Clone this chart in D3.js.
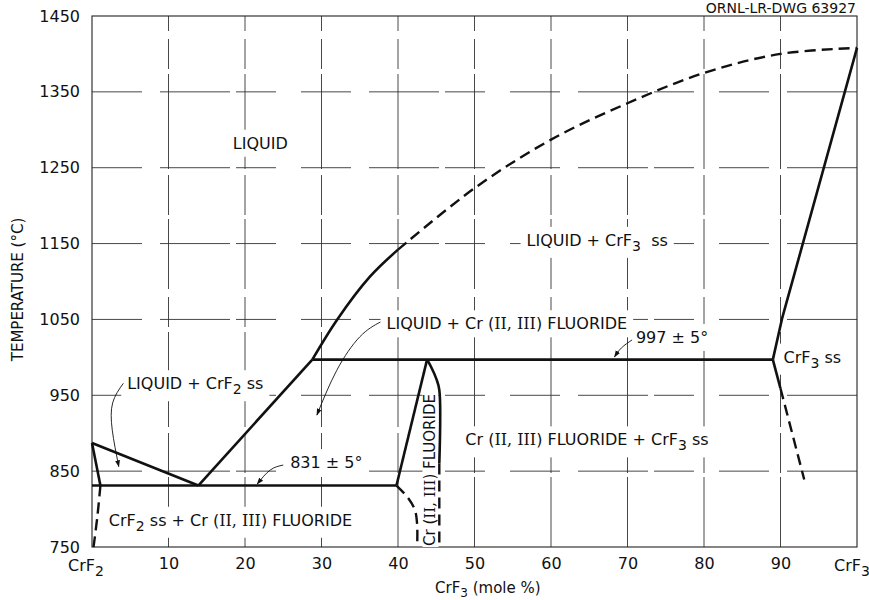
<!DOCTYPE html>
<html>
<head>
<meta charset="utf-8">
<script src="https://cdn.jsdelivr.net/npm/d3@7"></script>
<style>
  body { margin: 0; background: #fff; }
  svg text { font-family: "DejaVu Sans", sans-serif; fill: #111; }
  .rn { font-family: "DejaVu Serif", serif; }
</style>
</head>
<body>
<svg id="chart" width="869" height="600"></svg>
<script>
// Axis ticks.
const xTicks = [0, 10, 20, 30, 40, 50, 60, 70, 80, 90, 100];
const yTicks = [750, 850, 950, 1050, 1150, 1250, 1350, 1450];
const gridX = [10, 20, 30, 40, 50, 60, 70, 80, 90];
const gridY = [850, 950, 1050, 1150, 1250, 1350];

// Phase boundaries, [mole % CrF3, temperature °C].
const liquidusCrF2 = [[0, 887], [13.9, 831]];
const solidusCrF2 = [[0, 887], [1.1, 831]];
const solidusCrF2Dashed = [[1.1, 831], [0.7, 790], [0.2, 750]];
const liquidusLow = [[13.9, 831], [28.8, 997]];
const liquidusMid = [[28.8, 997], [32, 1049], [36.3, 1106], [40, 1142]];
const liquidusHigh = [[40, 1142], [50, 1223], [60, 1287], [70, 1335], [80, 1375], [90, 1400], [100, 1408]];
const eutectic = [[0, 831], [39.8, 831]];
const peritectic = [[28.8, 997], [89, 997]];
const compoundLeft = [[39.8, 831], [43.8, 997]];
const compoundRight = [[43.8, 997], [44.3, 988], [45.0, 972], [45.4, 957], [45.4, 860]];
const compoundRightDashed = [[45.4, 860], [45.4, 750]];
const compoundLowDashed = [[39.8, 831], [41.3, 815], [42.2, 799], [42.5, 780], [42.5, 750]];
const crf3ssUpper = [[89, 997], [90.2, 1051], [100, 1408]];
const crf3ssLower = [[89, 997], [90, 959]];
const crf3ssLowerDashed = [[90, 959], [93.1, 839]];

// Leader lines with arrowheads.
const leaderLiqCompound = [[37.7, 1046.6], [35, 1027], [32, 983], [29.4, 924]];
const leaderLiqCrF2 = [[4.1, 965.8], [2.7, 940], [2.65, 904], [3.5, 856]];
const leader831 = [[25, 858], [23.3, 851.5], [21.6, 833]];
const leader997 = [[70.6, 1023], [69.2, 1012.4], [68.3, 1000.5]];

// Region labels: [text parts, x, T]. Parts: [string, kind] where kind is
// "t" plain, "s" subscript, "r" roman numerals.
const labels = [
  [[["LIQUID", "t"]], 18.4, 1275],
  [[["LIQUID + CrF", "t"], ["3", "s"], ["  ss", "t"]], 56.8, 1147],
  [[["LIQUID + Cr (", "t"], ["II, III", "r"], [") FLUORIDE", "t"]], 38.5, 1037],
  [[["997 ± 5°", "t"]], 71.1, 1019],
  [[["CrF", "t"], ["3", "s"], [" ss", "t"]], 90.4, 993],
  [[["Cr (", "t"], ["II, III", "r"], [") FLUORIDE + CrF", "t"], ["3", "s"], [" ss", "t"]], 48.8, 884],
  [[["LIQUID + CrF", "t"], ["2", "s"], [" ss", "t"]], 4.6, 958],
  [[["831 ± 5°", "t"]], 25.9, 854],
  [[["CrF", "t"], ["2", "s"], [" ss + Cr (", "t"], ["II, III", "r"], [") FLUORIDE", "t"]], 2.2, 778]
];
const verticalLabel = [["Cr (", "t"], ["II, III", "r"], [") FLUORIDE", "t"]];

const svg = d3.select("#chart");
const margin = { top: 16, right: 12, bottom: 53, left: 92 };
const width = 869 - margin.left - margin.right;
const height = 600 - margin.top - margin.bottom;

const x = d3.scaleLinear().domain([0, 100]).range([margin.left, margin.left + width]);
const y = d3.scaleLinear().domain([750, 1450]).range([margin.top + height, margin.top]);

svg.append("defs").append("marker")
  .attr("id", "arrow")
  .attr("viewBox", "0 0 10 10")
  .attr("refX", 9).attr("refY", 5)
  .attr("markerWidth", 7).attr("markerHeight", 7)
  .attr("markerUnits", "userSpaceOnUse")
  .attr("orient", "auto")
  .append("path").attr("d", "M0,1.5 L10,5 L0,8.5 Z").attr("fill", "#111");

// Grid (drawn as broken lines, like the original drafting).
svg.append("g").selectAll("line").data(gridX).join("line")
  .attr("x1", d => x(d)).attr("x2", d => x(d))
  .attr("y1", y(750)).attr("y2", y(1450))
  .attr("stroke", "#333").attr("stroke-width", 0.9)
  .attr("stroke-dasharray", "70,4,40,6,95,5,30,8");
svg.append("g").selectAll("line").data(gridY).join("line")
  .attr("x1", x(0)).attr("x2", x(100))
  .attr("y1", d => y(d)).attr("y2", d => y(d))
  .attr("stroke", "#333").attr("stroke-width", 0.9)
  .attr("stroke-dasharray", "50,18,70,6,40,25");

// Frame.
svg.append("rect")
  .attr("x", x(0)).attr("y", y(1450))
  .attr("width", x(100) - x(0)).attr("height", y(750) - y(1450))
  .attr("fill", "none").attr("stroke", "#222").attr("stroke-width", 1.1);

// Axes (labels only).
const xAxis = svg.append("g")
  .attr("transform", `translate(0,${y(750)})`)
  .call(d3.axisBottom(x).tickValues(xTicks).tickSize(0).tickPadding(11)
    .tickFormat(d => (d === 0 || d === 100) ? "" : d));
xAxis.select(".domain").remove();
xAxis.selectAll("text").attr("font-size", 16).attr("font-family", "DejaVu Sans");
[[0, "2", -6], [100, "3", -5]].forEach(([v, sub, dx]) => {
  const t = svg.append("text")
    .attr("x", x(v) + dx).attr("y", y(750) + 24)
    .attr("text-anchor", "middle").attr("font-size", 16);
  t.append("tspan").text("CrF");
  t.append("tspan").attr("dy", 5).attr("font-size", 14).text(sub);
});

const yAxis = svg.append("g")
  .attr("transform", `translate(${x(0)},0)`)
  .call(d3.axisLeft(y).tickValues(yTicks).tickSize(0).tickPadding(12).tickFormat(d3.format("d")));
yAxis.select(".domain").remove();
yAxis.selectAll("text").attr("font-size", 16).attr("font-family", "DejaVu Sans");

// Axis titles.
svg.append("text")
  .attr("transform", `translate(23,${(y(750) + y(1450)) / 2 + 8}) rotate(-90)`)
  .attr("text-anchor", "middle").attr("font-size", 15)
  .text("TEMPERATURE (°C)");
const xt = svg.append("text")
  .attr("x", 435).attr("y", 593).attr("font-size", 15);
xt.append("tspan").text("CrF");
xt.append("tspan").attr("dy", 4).attr("font-size", 12).text("3");
xt.append("tspan").attr("dy", -4).text(" (mole %)");

svg.append("text")
  .attr("x", 856).attr("y", 13).attr("text-anchor", "end")
  .attr("font-size", 14).text("ORNL-LR-DWG 63927");

// Region labels, with a white patch that breaks the grid behind them.
const labelLayer = svg.append("g");
function addParts(t, parts, sub) {
  let lastSub = false;
  parts.forEach(([s, kind]) => {
    const ts = t.append("tspan").text(s);
    if (kind === "s") ts.attr("dy", sub).attr("font-size", 14);
    else {
      if (kind === "r") ts.attr("class", "rn");
      if (lastSub) ts.attr("dy", -sub);
    }
    lastSub = kind === "s";
  });
}
function patch(t, pad) {
  const b = t.node().getBBox();
  labelLayer.insert("rect", () => t.node())
    .attr("x", b.x - pad).attr("y", b.y - pad + 2)
    .attr("width", b.width + 2 * pad).attr("height", b.height + 2 * pad - 4)
    .attr("transform", t.attr("transform"))
    .attr("fill", "#fff");
}
labels.forEach(([parts, lx, ly]) => {
  const t = labelLayer.append("text")
    .attr("x", x(lx)).attr("y", y(ly))
    .attr("font-size", 16)
    .style("white-space", "pre");
  addParts(t, parts, 5);
  patch(t, 6);
});
const vt = labelLayer.append("text")
  .attr("transform", `translate(${x(44.9)},${y(851.5)}) rotate(-90)`)
  .attr("text-anchor", "middle").attr("font-size", 15);
addParts(vt, verticalLabel, 5);
patch(vt, 1);

// Phase boundary curves.
const line = d3.line().x(d => x(d[0])).y(d => y(d[1]));
const curved = d3.line().x(d => x(d[0])).y(d => y(d[1])).curve(d3.curveCatmullRom.alpha(0.5));
const solid = [liquidusCrF2, solidusCrF2, liquidusLow, eutectic, peritectic, compoundLeft, crf3ssUpper, crf3ssLower];
const solidCurved = [liquidusMid, compoundRight];
const dashed = [solidusCrF2Dashed, liquidusHigh, compoundRightDashed, compoundLowDashed, crf3ssLowerDashed];

const curves = svg.append("g").attr("fill", "none").attr("stroke", "#111")
  .attr("stroke-linejoin", "round");
curves.selectAll(".solid").data(solid).join("path")
  .attr("class", "solid").attr("d", line).attr("stroke-width", 2.6);
curves.selectAll(".solidc").data(solidCurved).join("path")
  .attr("class", "solidc").attr("d", curved).attr("stroke-width", 2.6);
curves.selectAll(".dashed").data(dashed).join("path")
  .attr("class", "dashed").attr("d", curved).attr("stroke-width", 2.4)
  .attr("stroke-dasharray", "11,6");

// Leaders.
svg.append("g").attr("fill", "none").attr("stroke", "#111").attr("stroke-width", 0.9)
  .selectAll("path").data([leaderLiqCompound, leaderLiqCrF2, leader831, leader997]).join("path")
  .attr("d", d3.line().x(d => x(d[0])).y(d => y(d[1])).curve(d3.curveNatural))
  .attr("marker-end", "url(#arrow)");
</script>
</body>
</html>
